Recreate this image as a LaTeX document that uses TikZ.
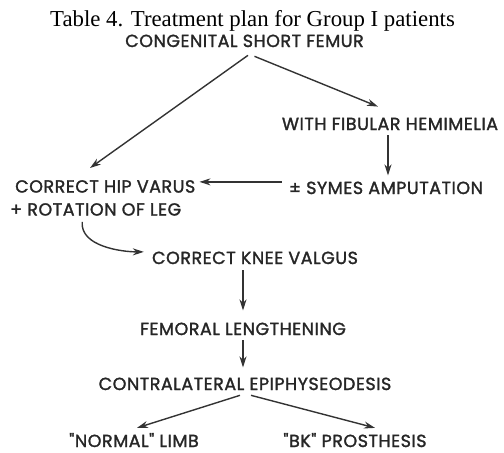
\documentclass[tikz,border=0pt]{standalone}
\usepackage{fontspec}
\setmainfont{Liberation Serif}
\newfontfamily\chartfont{Poppins}[FakeBold=1.6, LetterSpace=3]
\usetikzlibrary{arrows.meta}

\begin{document}
\begin{tikzpicture}[
        x=1pt, y=-1pt,
        caption/.style={font=\fontsize{22.8}{26}\selectfont, inner sep=0pt, anchor=base},
        stage/.style={font=\chartfont\fontsize{17.5}{23}\selectfont, text=black!85, inner sep=0pt, anchor=base},
        flow/.style={-{Stealth[length=11pt, width=7pt]}, line width=1.4pt, black!80}
    ]
        \useasboundingbox (0,0) rectangle (504,453);

        % Title
        \node[caption] (title) at (252.5, 26) {Table 4. Treatment plan for Group I patients};

        % Stages
        \node[stage] (csf) at (244.5, 47) {CONGENITAL SHORT FEMUR};
        \node[stage] (fib) at (390, 130) {WITH FIBULAR HEMIMELIA};
        \node[stage, anchor=north west, align=left] (hip) at (10, 180)
            {\hspace*{5pt}CORRECT HIP VARUS\\+ ROTATION OF LEG};
        \node[stage] (symes) at (386, 194) {± SYMES AMPUTATION};
        \node[stage] (knee) at (255, 264) {CORRECT KNEE VALGUS};
        \node[stage] (fem) at (243, 335) {FEMORAL LENGTHENING};
        \node[stage] (contra) at (245, 390) {CONTRALATERAL EPIPHYSEODESIS};
        \node[stage] (normal) at (134, 447) {"NORMAL" LIMB};
        \node[stage] (bk) at (355, 447) {"BK" PROSTHESIS};

        % Arrows
        \draw[flow] ([shift={(3.5,8)}]csf.south) -- ([shift={(80,-12)}]hip.north west);
        \draw[flow] ([shift={(10,9)}]csf.south) -- ([shift={(-12,-11)}]fib.north);
        \draw[flow, shorten <=5pt, shorten >=6pt] ([xshift=-2pt]fib.south) -- ([xshift=2pt]symes.north);
        \draw[flow, shorten <=7pt] ([yshift=6pt]symes.west) -- ([shift={(4pt,6pt)}]symes.west -| hip.east);
        \draw[flow, shorten <=6pt, shorten >=8pt] ([xshift=-20pt]hip.south) to[out=-95, in=180] ([yshift=6pt]knee.west);
        \draw[flow, shorten <=6pt, shorten >=12pt] (fem.north |- knee.south) -- (fem.north);
        \draw[flow, shorten <=5pt, shorten >=10pt] (fem.south) -- (fem.south |- contra.north);
        \draw[flow] ([shift={(-5,5)}]contra.south) -- ([shift={(3,-5)}]normal.north);
        \draw[flow] ([shift={(6,5)}]contra.south) -- ([shift={(20,-5)}]bk.north);
    \end{tikzpicture}
\end{document}
